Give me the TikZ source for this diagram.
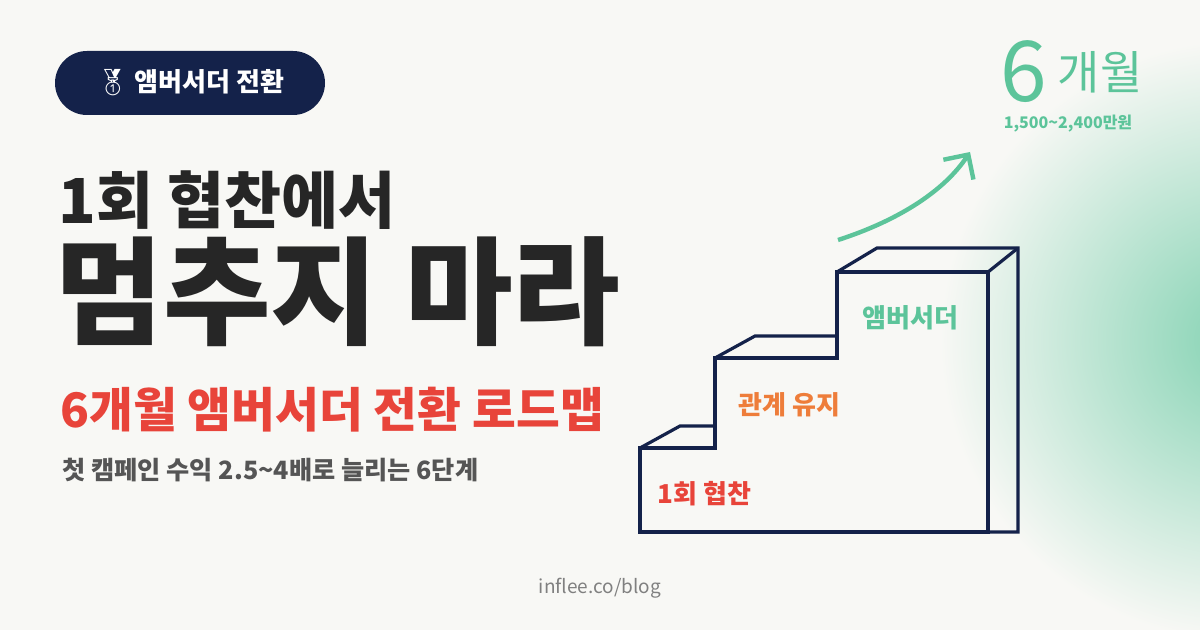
\documentclass[tikz,border=0pt]{standalone}
\usepackage{fontspec}
\setmainfont{Noto Sans CJK KR}
\newfontfamily\emojifont{Noto Emoji}
\definecolor{bgc}{HTML}{F8F8F5}
\definecolor{navy}{HTML}{14224A}
\definecolor{mint}{HTML}{5CC49A}
\definecolor{redc}{HTML}{E8443A}
\definecolor{orangec}{HTML}{EE7D3A}
\definecolor{inkc}{HTML}{262626}
\definecolor{greyc}{HTML}{555555}
\usetikzlibrary{positioning, arrows.meta}

\begin{document}
\begin{tikzpicture}[x=0.5pt, y=-0.5pt]

  \tikzstyle{stair}=[draw=navy, line width=1.6pt, line join=miter]
  \tikzstyle{label}=[anchor=west, inner sep=0, font=\bfseries]

  \clip (0,0) rectangle (1200,630);
  \fill[bgc] (0,0) rectangle (1200,630);
  \shade[inner color=mint!75, outer color=bgc] (1240,340) circle (300);
  \useasboundingbox (0,0) rectangle (1200,630);

  % badge
  \node [fill=navy, rounded corners=16pt, minimum width=135pt, minimum height=32pt,
         text=white, font=\fontsize{13}{13}\selectfont\bfseries] (badge) at (190,83)
         {{\emojifont 🥇}\ 앰버서더 전환};

  % titles
  \node [label, text=inkc, font=\fontsize{31}{31}\selectfont\bfseries] (title1) at (58,200) {1회 협찬에서};
  \node [label, text=inkc, font=\fontsize{58.5}{58}\selectfont\bfseries] (title2) at (55,292) {멈추지 마라};
  \node [label, text=redc, font=\fontsize{23.8}{24}\selectfont\bfseries] (sub) at (60,410) {6개월 앰버서더 전환 로드맵};
  \node [label, text=greyc, font=\fontsize{12.6}{13}\selectfont\bfseries] (desc) at (62,470) {첫 캠페인 수익 2.5\textasciitilde4배로 늘리는 6단계};
  \node [text=gray, font=\fontsize{9.5}{10}\selectfont] (site) at (600,588) {inflee.co/blog};

  % staircase
  \draw [stair] (640,532) -- (640,448) -- (715,448) -- (715,358) -- (837,358) -- (837,272)
    -- (988,272) -- (988,532) -- cycle;
  \draw [stair] (640,448) -- (680,426) -- (715,426);
  \draw [stair] (715,358) -- (755,336) -- (837,336);
  \draw [stair] (837,272) -- (877,248) -- (1018,248) -- (1018,532) -- (988,532);
  \draw [stair] (988,272) -- (1018,248);

  \node [label, text=redc, font=\fontsize{13}{13}\selectfont\bfseries] (step1) at (657,494) {1회 협찬};
  \node [label, text=orangec, font=\fontsize{13}{13}\selectfont\bfseries] (step2) at (738,405) {관계 유지};
  \node [label, text=mint, font=\fontsize{13}{13}\selectfont\bfseries] (step3) at (862,318) {앰버서더};

  % goal
  \node [label, text=mint, font=\fontsize{42}{42}\selectfont] (six) at (1000,72) {6};
  \node [label, text=mint, font=\fontsize{23}{23}\selectfont, right=5pt of six] (month) {개월};
  \node [text=mint, font=\fontsize{8}{8}\selectfont\bfseries] (amount) at (1068,124) {1,500\textasciitilde2,400만원};

  \coordinate (arrowstart) at (838,240);
  \coordinate (arrowend) at (970,152);
  \draw [mint, line width=2.2pt, -{Straight Barb[length=9pt]}] (arrowstart) .. controls (900,220) and (945,190) .. (arrowend);
\end{tikzpicture}
\end{document}
